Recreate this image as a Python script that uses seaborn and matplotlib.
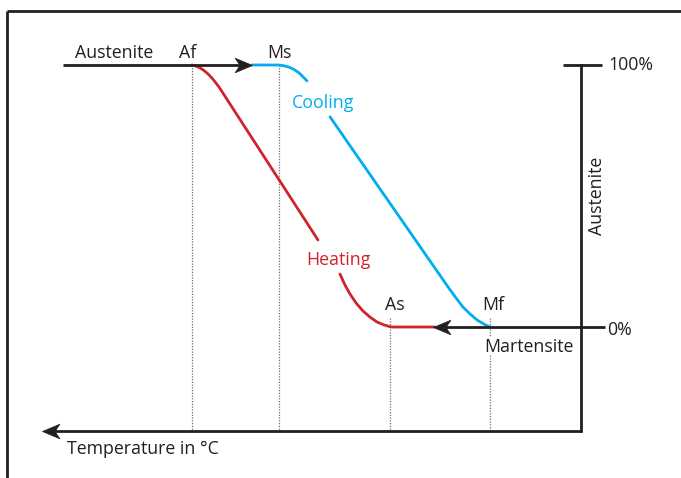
import numpy as np
import pandas as pd
import matplotlib
matplotlib.use("Agg")
import matplotlib.pyplot as plt
from matplotlib.path import Path
import seaborn as sns

# ---- data (x: temperature position, temperature rises to the left; y: austenite %) ----
cool_x1 = [252, 279, 284, 289, 294, 299, 303, 307]
cool_y1 = [100, 100, 99.7, 99.2, 98.3, 97.0, 95.5, 93.9]
cool_x2 = [330, 448, 456, 463, 470, 477, 484, 490]
cool_y2 = [80.2, 15.3, 11.1, 7.6, 5.0, 2.7, 1.1, 0]
heat_x1 = [192, 196, 200, 204, 208, 212, 216, 219, 318]
heat_y1 = [100, 99.6, 98.9, 97.9, 96.6, 95.0, 93.1, 91.6, 33.2]
heat_x2 = [340, 345, 350, 356, 363, 370, 377, 384, 391, 435]
heat_y2 = [20.2, 16.0, 12.6, 9.2, 6.1, 3.8, 1.9, 0.8, 0, 0]

trans_names = ["Af", "Ms", "As", "Mf"]
trans_temps = [192, 279, 390, 490]
pct_labels = ["100%", "0%"]
pct_values = [100, 0]

# ---- figure ----
sns.set_theme(style="white")
plt.rcParams["font.family"] = ["Open Sans", "DejaVu Sans"]
fig = plt.figure(figsize=(6.81, 4.78), dpi=100)
ax = fig.add_axes([0, 0, 1, 1])
ax.set_xlim(0, 681)
ax.set_ylim((327 - 478) / 2.62, 327 / 2.62)
ax.axis("off")

BLACK = "#231f20"
BLUE = "#00aeef"
RED = "#d1232a"
FS = 12.8
ybot = -39.7

# frame (top and left)
ax.plot([7, 681], [120.6, 120.6], color=BLACK, lw=2.0, solid_capstyle="butt")
ax.plot([7, 7], [120.6, -60], color=BLACK, lw=2.0, solid_capstyle="butt")

# dotted guide lines
dot = dict(color="#6d6e71", lw=0.9, ls=(0, (1, 1.2)))
ax.plot([trans_temps[0]] * 2, [100, ybot], **dot)
ax.plot([trans_temps[1]] * 2, [100, ybot], **dot)
ax.plot([trans_temps[2]] * 2, [3.4, ybot], **dot)
ax.plot([trans_temps[3]] * 2, [3.4, -3.4], **dot)
ax.plot([trans_temps[3]] * 2, [-10.7, ybot], **dot)

# curves
cool = pd.concat([
    pd.DataFrame({"T": cool_x1, "A": cool_y1, "seg": 0}),
    pd.DataFrame({"T": cool_x2, "A": cool_y2, "seg": 1}),
])
heat = pd.concat([
    pd.DataFrame({"T": heat_x1, "A": heat_y1, "seg": 0}),
    pd.DataFrame({"T": heat_x2, "A": heat_y2, "seg": 1}),
])
sns.lineplot(data=cool, x="T", y="A", units="seg", estimator=None, sort=False,
             color=BLUE, lw=2.0, ax=ax, legend=False)
sns.lineplot(data=heat, x="T", y="A", units="seg", estimator=None, sort=False,
             color=RED, lw=2.0, ax=ax, legend=False)

# black axis lines
ax.plot([63, 245], [100, 100], color=BLACK, lw=2.0, solid_capstyle="butt")
ax.plot([605, 442], [0, 0], color=BLACK, lw=2.0, solid_capstyle="butt")
ax.plot([563, 602], [100, 100], color=BLACK, lw=2.0, solid_capstyle="butt")
ax.plot([581, 581], [100, ybot], color=BLACK, lw=2.0, solid_capstyle="projecting")
ax.plot([581, 50], [ybot, ybot], color=BLACK, lw=2.0, solid_capstyle="butt")

# stealth arrowheads as markers (tip anchored at point)
right_head = Path([(0, 0), (-1, 0.42), (-0.72, 0), (-1, -0.42), (0, 0)],
                  [Path.MOVETO, Path.LINETO, Path.LINETO, Path.LINETO, Path.CLOSEPOLY])
left_head = Path([(0, 0), (1, 0.42), (0.72, 0), (1, -0.42), (0, 0)],
                 [Path.MOVETO, Path.LINETO, Path.LINETO, Path.LINETO, Path.CLOSEPOLY])
ax.plot([252], [100], marker=right_head, ms=25, color=BLACK, mec=BLACK, mew=0.5)
ax.plot([433], [0], marker=left_head, ms=25, color=BLACK, mec=BLACK, mew=0.5)
ax.plot([42], [ybot], marker=left_head, ms=25, color=BLACK, mec=BLACK, mew=0.5)

# texts
def pct(py):
    return (327 - py) / 2.62

txt = dict(color=BLACK, fontsize=FS, va="baseline")
ax.text(114, pct(58), "Austenite", ha="center", **txt)
ax.text(188, pct(58), trans_names[0], ha="center", **txt)
ax.text(279, pct(58), trans_names[1], ha="center", **txt)
ax.text(395, pct(310), trans_names[2], ha="center", **txt)
ax.text(493, pct(310), trans_names[3], ha="center", **txt)
ax.text(484, pct(352), "Martensite", ha="left", **txt)
ax.text(608, pct(70), pct_labels[0], ha="left", **txt)
ax.text(607, pct(335), pct_labels[1], ha="left", **txt)
ax.text(67, pct(454), "Temperature in °C", ha="left", **txt)
ax.text(323, pct(108), "Cooling", ha="center", va="baseline", color=BLUE, fontsize=FS)
ax.text(338, pct(265), "Heating", ha="center", va="baseline", color=RED, fontsize=FS)
ax.text(597, 50, "Austenite", rotation=90, ha="center", va="center",
        color=BLACK, fontsize=FS)

fig.savefig("out.png", dpi=100)
